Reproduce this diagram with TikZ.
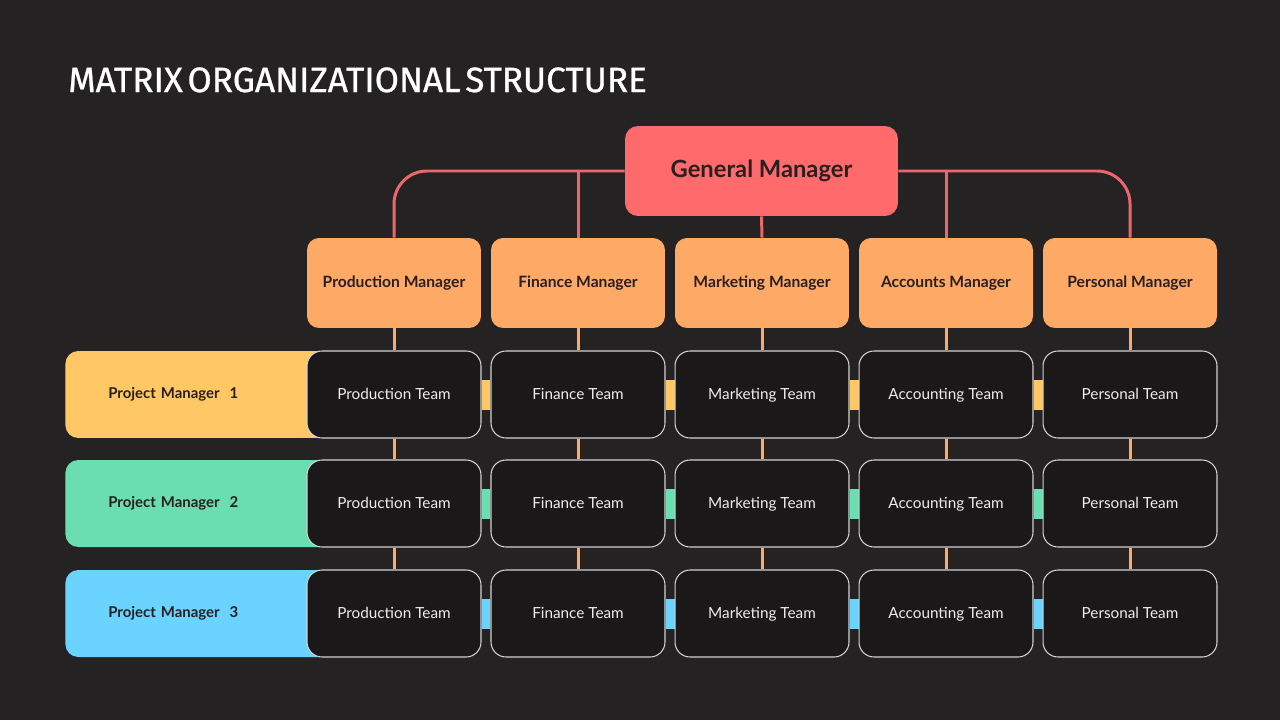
\documentclass[tikz,border=0pt]{standalone}
\usepackage{fontspec}
\setmainfont{Lato}
\newfontfamily\titlefont[WordSpace=0.5, FakeBold=0.8]{Fira Sans}
\usetikzlibrary{positioning,calc,backgrounds}

\definecolor{bgGrey}{HTML}{242223}
\definecolor{gmRed}{HTML}{FF6B6D}
\definecolor{lineRed}{HTML}{EC676C}
\definecolor{mgrOrange}{HTML}{FFA966}
\definecolor{pmYellow}{HTML}{FFC864}
\definecolor{pmGreen}{HTML}{6ADDB1}
\definecolor{pmBlue}{HTML}{6AD3FF}
\definecolor{teamBlack}{HTML}{1A1819}
\definecolor{teamEdge}{HTML}{D2D2D2}
\definecolor{teamText}{HTML}{EDEDED}
\definecolor{darkText}{HTML}{2A1F20}

\tikzset{
  general/.style={rectangle, rounded corners=0.26cm, fill=gmRed, minimum width=5.46cm, minimum height=1.8cm, text=darkText, font=\bfseries\fontsize{13.5}{15}\selectfont},
  manager/.style={rectangle, rounded corners=0.24cm, fill=mgrOrange, minimum width=3.48cm, minimum height=1.8cm, text height=0.75em, text depth=0.22em, text=darkText, font=\bfseries\fontsize{8.9}{10}\selectfont},
  team/.style={rectangle, rounded corners=0.3cm, fill=teamBlack, draw=teamEdge, line width=0.6pt, minimum width=3.48cm, minimum height=1.74cm, text height=0.75em, text depth=0.22em, text=teamText, font=\fontsize{8.7}{10}\selectfont},
  project/.style={rectangle, rounded corners=0.26cm, anchor=west, minimum height=1.74cm, text width=3.58cm, inner xsep=0.86cm, align=left, text=darkText, font=\bfseries\fontsize{8.5}{10}\selectfont},
  redline/.style={draw=lineRed, line width=1.7pt},
  orangeline/.style={draw=mgrOrange, line width=1.7pt},
  crossbar/.style={line width=0.6cm},
}

\begin{document}
\begin{tikzpicture}[x=0.02cm, y=-0.02cm]
        \useasboundingbox (0,0) rectangle (1280,720);
        \begin{scope}[on background layer]
            \fill[bgGrey] (0,0) rectangle (1280,720);
        \end{scope}

        % Title
        \node[anchor=base west, inner sep=0pt, text=white, font=\titlefont\fontsize{20}{24}\selectfont] (title) at (68,92) {MATRIX ORGANIZATIONAL STRUCTURE};

        % Top node
        \node[general] (gm) at (761.5,171) {General Manager};

        % Functional managers
        \node[manager] (prodMan) at (394,283) {Production Manager};
        \node[manager] (finMan) at (578,283) {Finance Manager};
        \node[manager] (markMan) at (762,283) {Marketing Manager};
        \node[manager] (accMan) at (946,283) {Accounts Manager};
        \node[manager] (persMan) at (1130,283) {Personal Manager};

        % Project managers (left bars)
        \node[project, fill=pmYellow] (projMan1) at (65,394.5) {Project Manager~ 1};
        \node[project, fill=pmGreen] (projMan2) at (65,503.5) {Project Manager~ 2};
        \node[project, fill=pmBlue] (projMan3) at (65,613.5) {Project Manager~ 3};

        % Teams, row 1
        \node[team] (prodTeam1) at (394,394.5) {Production Team};
        \node[team] (finTeam1) at (578,394.5) {Finance Team};
        \node[team] (markTeam1) at (762,394.5) {Marketing Team};
        \node[team] (accTeam1) at (946,394.5) {Accounting Team};
        \node[team] (persTeam1) at (1130,394.5) {Personal Team};

        % Teams, row 2
        \node[team] (prodTeam2) at (394,503.5) {Production Team};
        \node[team] (finTeam2) at (578,503.5) {Finance Team};
        \node[team] (markTeam2) at (762,503.5) {Marketing Team};
        \node[team] (accTeam2) at (946,503.5) {Accounting Team};
        \node[team] (persTeam2) at (1130,503.5) {Personal Team};

        % Teams, row 3
        \node[team] (prodTeam3) at (394,613.5) {Production Team};
        \node[team] (finTeam3) at (578,613.5) {Finance Team};
        \node[team] (markTeam3) at (762,613.5) {Marketing Team};
        \node[team] (accTeam3) at (946,613.5) {Accounting Team};
        \node[team] (persTeam3) at (1130,613.5) {Personal Team};

        \begin{scope}[on background layer]
            % General manager to functional managers
            \draw[redline, rounded corners=0.66cm] (gm.west) -| (prodMan.north);
            \draw[redline, rounded corners=0.66cm] (gm.east) -| (persMan.north);
            \draw[redline] (finMan.north |- gm.west) -- (finMan.north);
            \draw[redline] (accMan.north |- gm.east) -- (accMan.north);
            \draw[redline] (gm.south) -- (markMan.north);

            % Functional lines down the columns
            \draw[orangeline] (prodMan.south) -- (prodTeam1.north) (prodTeam1.south) -- (prodTeam2.north) (prodTeam2.south) -- (prodTeam3.north);
            \draw[orangeline] (finMan.south) -- (finTeam1.north) (finTeam1.south) -- (finTeam2.north) (finTeam2.south) -- (finTeam3.north);
            \draw[orangeline] (markMan.south) -- (markTeam1.north) (markTeam1.south) -- (markTeam2.north) (markTeam2.south) -- (markTeam3.north);
            \draw[orangeline] (accMan.south) -- (accTeam1.north) (accTeam1.south) -- (accTeam2.north) (accTeam2.south) -- (accTeam3.north);
            \draw[orangeline] (persMan.south) -- (persTeam1.north) (persTeam1.south) -- (persTeam2.north) (persTeam2.south) -- (persTeam3.north);

            % Project lines across the rows
            \draw[crossbar, pmYellow] (prodTeam1.east) -- (finTeam1.west) (finTeam1.east) -- (markTeam1.west) (markTeam1.east) -- (accTeam1.west) (accTeam1.east) -- (persTeam1.west);
            \draw[crossbar, pmGreen] (prodTeam2.east) -- (finTeam2.west) (finTeam2.east) -- (markTeam2.west) (markTeam2.east) -- (accTeam2.west) (accTeam2.east) -- (persTeam2.west);
            \draw[crossbar, pmBlue] (prodTeam3.east) -- (finTeam3.west) (finTeam3.east) -- (markTeam3.west) (markTeam3.east) -- (accTeam3.west) (accTeam3.east) -- (persTeam3.west);
        \end{scope}
\end{tikzpicture}
\end{document}
